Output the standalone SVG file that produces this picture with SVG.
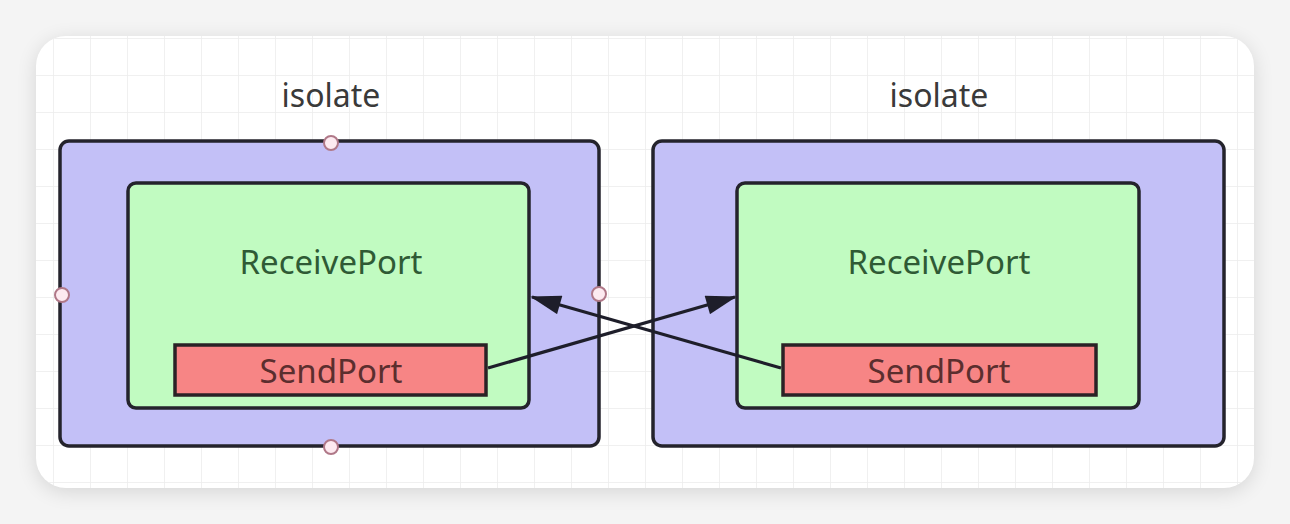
<svg xmlns="http://www.w3.org/2000/svg" width="1290" height="524" viewBox="0 0 1290 524">
<defs>
<filter id="sh" x="-10%" y="-10%" width="120%" height="130%">
<feGaussianBlur stdDeviation="10"/>
</filter>
<pattern id="grid" x="16" y="1" width="37" height="37" patternUnits="userSpaceOnUse">
<path d="M0 0H37M0 0V37" fill="none" stroke="#ececec" stroke-width="1.5"/>
</pattern>
<marker id="ah" viewBox="0 0 16 10" refX="15" refY="5" markerWidth="10" markerHeight="6" orient="auto" markerUnits="strokeWidth">
<path d="M0 0L16 5L0 10z" fill="#1e1e2a"/>
</marker>
</defs>
<style>
.outer{fill:#c3c0f7;stroke:#24232c;stroke-width:3.5}
.inner{fill:#c1fbc1;stroke:#24232c;stroke-width:3.5}
.send{fill:#f78585;stroke:#2a2226;stroke-width:3.5}
.t{font-family:"Noto Sans","Open Sans",sans-serif;text-anchor:middle}
.iso{font-size:32px;fill:#3a3a3a}
.rp{font-size:33px;fill:#2f5a35}
.sp{font-size:33px;fill:#5b2e2e}
.pt{fill:#fdeaf0;stroke:#b07888;stroke-width:2}
.conn{fill:none;stroke:#1e1e2a;stroke-width:3.2;marker-end:url(#ah)}
</style>
<rect width="1290" height="524" fill="#f4f4f4"/>
<rect x="36" y="40" width="1218" height="452" rx="30" fill="#000" opacity="0.12" filter="url(#sh)"/>
<rect x="36" y="36" width="1218" height="452" rx="30" fill="#ffffff"/>
<rect x="36" y="36" width="1218" height="452" rx="30" fill="url(#grid)"/>
<g id="isolate-left">
<text class="t iso" x="331" y="107">isolate</text>
<rect class="outer" x="60" y="141" width="539" height="305" rx="9"/>
<circle class="pt" cx="331" cy="143" r="7"/>
<circle class="pt" cx="62" cy="295" r="7"/>
<circle class="pt" cx="599" cy="294" r="7"/>
<circle class="pt" cx="331" cy="447" r="7"/>
</g>
<g id="receive-left">
<rect class="inner" x="128" y="183" width="401" height="225" rx="8"/>
<text class="t rp" x="331" y="274">ReceivePort</text>
</g>
<g id="send-left">
<rect class="send" x="175" y="345" width="311" height="50"/>
<text class="t sp" x="331" y="383">SendPort</text>
</g>
<g id="isolate-right">
<text class="t iso" x="939" y="107">isolate</text>
<rect class="outer" x="653" y="141" width="571" height="305" rx="9"/>
</g>
<g id="receive-right">
<rect class="inner" x="737" y="183" width="402" height="225" rx="8"/>
<text class="t rp" x="939" y="274">ReceivePort</text>
</g>
<g id="send-right">
<rect class="send" x="783" y="345" width="313" height="50"/>
<text class="t sp" x="939" y="383">SendPort</text>
</g>
<g id="connectors">
<line class="conn" x1="488" y1="368" x2="735" y2="297"/>
<line class="conn" x1="781" y1="368" x2="532" y2="297"/>
</g>
</svg>
